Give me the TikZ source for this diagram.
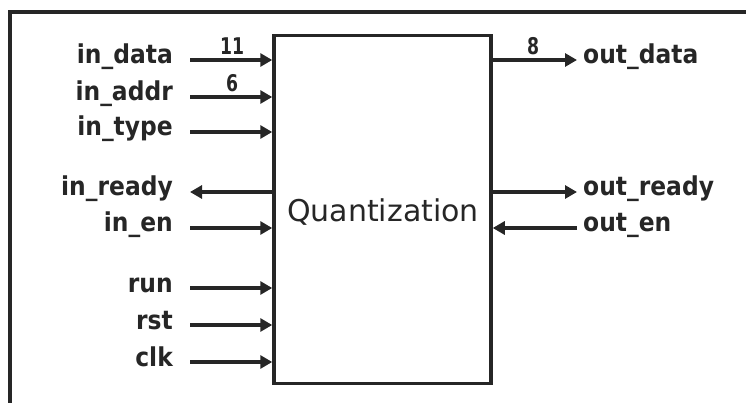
\documentclass[tikz,border=0pt]{standalone}
\usepackage{fontspec}
\setmainfont{DejaVu Sans}
\newfontfamily\sigfont[FakeStretch=0.9]{DejaVu Sans Bold}
\newfontfamily\widfont[FakeStretch=0.75]{DejaVu Sans Bold}
\usetikzlibrary{arrows.meta}
\begin{document}
\begin{tikzpicture}[x=1pt,y=-1pt,
  sig/.style={font=\sigfont\fontsize{26}{26}\selectfont, text=black!85, inner sep=0pt},
  wid/.style={font=\widfont\fontsize{23}{23}\selectfont, text=black!85, inner sep=0pt},
  wire/.style={line width=3.5pt, draw=black!85, -{Triangle[length=12pt,width=13pt]}},
  frame/.style={line width=3.5pt, draw=black!85}]
\useasboundingbox (0,0) rectangle (746,403);
% outer frame (top and left)
\coordinate (ftl) at (10,12);
\coordinate (ftr) at (746,12);
\coordinate (fbl) at (10,403);
\draw[frame] (ftr) -- (ftl) -- (fbl);
% main block
\node[frame, draw, minimum width=217pt, minimum height=348pt, inner sep=0pt] (q) at (382.5,209.5) {};
\node[font=\fontsize{30}{30}\selectfont, text=black!85, inner sep=0pt, anchor=base] (qt) at (383,222) {Quantization};
% inputs
\foreach \n/\t/\y in {a/in\_data/60, b/in\_addr/97, c/in\_type/132, e/in\_en/228, f/run/288, g/rst/325, h/clk/362}{
  \node[sig, anchor=base east] (l\n) at (173,\y+4) {\t};
  \coordinate (s\n) at (190,\y);
  \draw[wire] (s\n) -- (s\n -| q.west);
}
% in_ready (output to the left)
\node[sig, anchor=base east] (ld) at (173,196) {in\_ready};
\coordinate (sd) at (190,192);
\draw[wire] (sd -| q.west) -- (sd);
% outputs
\node[sig, anchor=base west] (ra) at (583,64) {out\_data};
\coordinate (ta) at (577,60);
\draw[wire] (ta -| q.east) -- (ta);
\node[sig, anchor=base west] (rb) at (583,196) {out\_ready};
\coordinate (tb) at (577,192);
\draw[wire] (tb -| q.east) -- (tb);
\node[sig, anchor=base west] (rc) at (583,232) {out\_en};
\coordinate (tc) at (577,228);
\draw[wire] (tc) -- (tc -| q.east);
% bus widths
\node[wid, anchor=base] (w1) at (232,55) {11};
\node[wid, anchor=base] (w2) at (232,92) {6};
\node[wid, anchor=base] (w3) at (533,55) {8};
\end{tikzpicture}
\end{document}
